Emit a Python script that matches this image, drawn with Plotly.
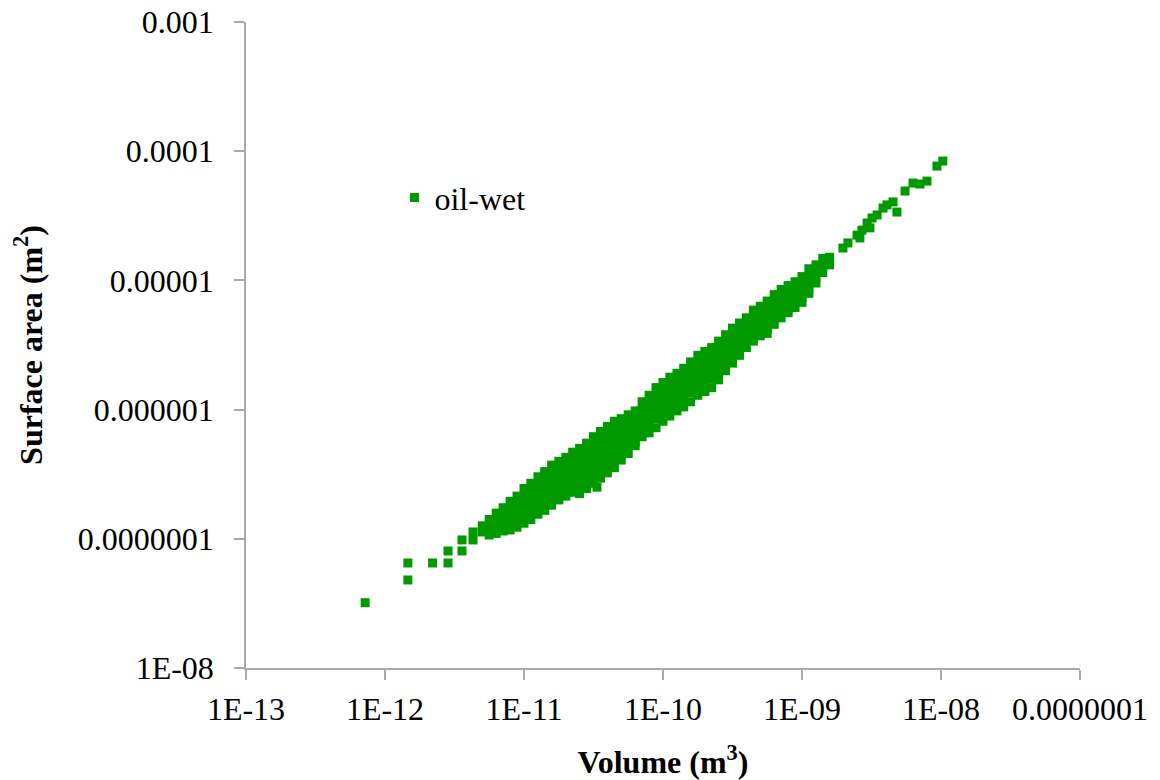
import plotly.graph_objects as go

# Pore volumes (m^3) of the dense band, one entry per column of points
band_volume = [
    5.01e-12, 5.62e-12, 6.31e-12, 7.08e-12, 7.94e-12, 8.91e-12,
    1.00e-11, 1.12e-11, 1.26e-11, 1.41e-11, 1.58e-11, 1.78e-11, 2.00e-11,
    2.24e-11, 2.51e-11, 2.82e-11, 3.16e-11, 3.55e-11, 3.98e-11, 4.47e-11,
    5.01e-11, 5.62e-11, 6.31e-11, 7.08e-11, 7.94e-11, 8.91e-11,
    1.00e-10, 1.12e-10, 1.26e-10, 1.41e-10, 1.58e-10, 1.78e-10, 2.00e-10,
    2.24e-10, 2.51e-10, 2.82e-10, 3.16e-10, 3.55e-10, 3.98e-10, 4.47e-10,
    5.01e-10, 5.62e-10, 6.31e-10, 7.08e-10, 7.94e-10, 8.91e-10,
    1.00e-09, 1.12e-09, 1.26e-09, 1.41e-09, 1.58e-09,
]

# Surface areas (m^2) of the pores sharing each band volume above
band_area = [
    [1.26e-7, 1.13e-7],
    [1.41e-7, 1.23e-7, 1.07e-7],
    [1.58e-7, 1.38e-7, 1.20e-7, 1.10e-7],
    [1.74e-7, 1.51e-7, 1.32e-7, 1.15e-7],
    [1.95e-7, 1.70e-7, 1.48e-7, 1.29e-7, 1.17e-7],
    [2.14e-7, 1.86e-7, 1.62e-7, 1.41e-7, 1.23e-7],
    [2.45e-7, 2.14e-7, 1.86e-7, 1.62e-7, 1.41e-7, 1.32e-7],
    [2.69e-7, 2.34e-7, 2.04e-7, 1.78e-7, 1.55e-7, 1.41e-7],
    [3.02e-7, 2.63e-7, 2.29e-7, 2.00e-7, 1.74e-7, 1.55e-7],
    [3.31e-7, 2.88e-7, 2.51e-7, 2.19e-7, 1.91e-7, 1.66e-7],
    [3.72e-7, 3.24e-7, 2.82e-7, 2.45e-7, 2.14e-7, 1.95e-7, 1.82e-7],
    [3.98e-7, 3.47e-7, 3.02e-7, 2.63e-7, 2.29e-7, 2.00e-7],
    [4.27e-7, 3.72e-7, 3.24e-7, 2.82e-7, 2.45e-7, 2.14e-7],
    [4.68e-7, 4.07e-7, 3.55e-7, 3.09e-7, 2.69e-7, 2.45e-7, 2.29e-7],
    [5.01e-7, 4.37e-7, 3.80e-7, 3.31e-7, 2.88e-7, 2.51e-7, 2.24e-7],
    [5.50e-7, 4.79e-7, 4.17e-7, 3.63e-7, 3.16e-7, 2.75e-7, 2.45e-7],
    [6.17e-7, 5.37e-7, 4.68e-7, 4.07e-7, 3.55e-7, 3.09e-7, 2.69e-7],
    [6.76e-7, 5.89e-7, 5.13e-7, 4.47e-7, 3.89e-7, 3.39e-7, 2.95e-7],
    [7.41e-7, 6.46e-7, 5.62e-7, 4.90e-7, 4.27e-7, 3.72e-7, 3.24e-7],
    [8.13e-7, 7.08e-7, 6.17e-7, 5.37e-7, 4.68e-7, 4.07e-7, 3.55e-7],
    [8.51e-7, 7.41e-7, 6.46e-7, 5.62e-7, 4.90e-7, 4.47e-7, 4.07e-7],
    [9.12e-7, 7.94e-7, 6.92e-7, 6.03e-7, 5.25e-7, 4.57e-7],
    [9.77e-7, 8.51e-7, 7.41e-7, 6.46e-7, 5.62e-7, 5.25e-7],
    [1.15e-6, 1.00e-6, 8.71e-7, 7.59e-7, 6.61e-7, 6.17e-7],
    [1.29e-6, 1.12e-6, 9.77e-7, 8.51e-7, 7.41e-7, 6.61e-7],
    [1.48e-6, 1.29e-6, 1.12e-6, 9.77e-7, 8.51e-7, 7.24e-7],
    [1.62e-6, 1.41e-6, 1.23e-6, 1.07e-6, 9.33e-7, 8.13e-7],
    [1.78e-6, 1.55e-6, 1.35e-6, 1.17e-6, 1.02e-6, 8.91e-7],
    [1.91e-6, 1.66e-6, 1.45e-6, 1.26e-6, 1.10e-6, 9.77e-7],
    [2.09e-6, 1.82e-6, 1.58e-6, 1.38e-6, 1.20e-6, 1.05e-6],
    [2.34e-6, 2.04e-6, 1.78e-6, 1.55e-6, 1.35e-6, 1.15e-6],
    [2.63e-6, 2.29e-6, 2.00e-6, 1.74e-6, 1.51e-6, 1.29e-6],
    [2.82e-6, 2.45e-6, 2.14e-6, 1.86e-6, 1.62e-6, 1.38e-6],
    [3.02e-6, 2.63e-6, 2.29e-6, 2.00e-6, 1.74e-6, 1.48e-6],
    [3.39e-6, 2.95e-6, 2.57e-6, 2.24e-6, 1.95e-6, 1.70e-6],
    [3.80e-6, 3.31e-6, 2.88e-6, 2.51e-6, 2.19e-6, 2.00e-6],
    [4.27e-6, 3.72e-6, 3.24e-6, 2.82e-6, 2.45e-6, 2.29e-6],
    [4.68e-6, 4.07e-6, 3.55e-6, 3.09e-6, 2.82e-6, 2.63e-6],
    [5.13e-6, 4.47e-6, 3.89e-6, 3.39e-6, 3.02e-6],
    [5.89e-6, 5.13e-6, 4.47e-6, 3.89e-6, 3.39e-6],
    [6.31e-6, 5.50e-6, 4.79e-6, 4.17e-6, 3.72e-6],
    [6.92e-6, 6.03e-6, 5.25e-6, 4.57e-6, 4.17e-6, 3.89e-6],
    [7.76e-6, 6.76e-6, 5.89e-6, 5.13e-6, 4.57e-6],
    [8.51e-6, 7.41e-6, 6.46e-6, 5.62e-6, 5.13e-6],
    [9.12e-6, 7.94e-6, 6.92e-6, 6.03e-6, 5.62e-6],
    [9.77e-6, 8.51e-6, 7.41e-6, 6.76e-6, 6.17e-6],
    [1.07e-5, 9.33e-6, 8.13e-6, 7.41e-6, 6.76e-6],
    [1.23e-5, 1.07e-5, 9.33e-6, 8.51e-6, 7.94e-6],
    [1.32e-5, 1.15e-5, 1.05e-5, 9.55e-6],
    [1.48e-5, 1.29e-5, 1.15e-5],
    [1.51e-5, 1.32e-5],
]

# Isolated pores at both ends of the distribution
sparse_volume = [
    7.2e-13, 1.46e-12, 1.46e-12, 2.2e-12, 2.84e-12, 2.84e-12, 3.58e-12,
    3.58e-12, 4.3e-12, 4.3e-12, 3.35e-11, 1.97e-9, 2.14e-9, 2.49e-9,
    2.61e-9, 2.70e-9, 2.94e-9, 3.08e-9, 3.19e-9, 3.47e-9, 3.83e-9,
    4.09e-9, 4.52e-9, 4.82e-9, 5.51e-9, 6.29e-9, 7.06e-9, 7.93e-9,
    9.35e-9, 1.03e-8,
]
sparse_area = [
    3.2e-8, 4.8e-8, 6.5e-8, 6.5e-8, 6.5e-8, 8.05e-8, 8.05e-8,
    9.8e-8, 1.13e-7, 9.8e-8, 2.51e-7, 1.78e-5, 1.95e-5, 2.24e-5,
    2.13e-5, 2.45e-5, 2.78e-5, 2.55e-5, 3.04e-5, 3.21e-5, 3.63e-5,
    3.84e-5, 4.05e-5, 3.38e-5, 4.92e-5, 5.67e-5, 5.57e-5, 5.87e-5,
    7.67e-5, 8.39e-5,
]

x_tickvals = [1e-13, 1e-12, 1e-11, 1e-10, 1e-9, 1e-8, 1e-7]
x_ticktext = ["1E-13", "1E-12", "1E-11", "1E-10", "1E-09", "1E-08", "0.0000001"]
y_tickvals = [1e-8, 1e-7, 1e-6, 1e-5, 1e-4, 1e-3]
y_ticktext = ["1E-08", "0.0000001", "0.000001", "0.00001", "0.0001", "0.001"]

# Flatten the band table into plain x/y sequences
volume = []
area = []
for v, areas in zip(band_volume, band_area):
    for a in areas:
        volume.append(v)
        area.append(a)
volume += sparse_volume
area += sparse_area

GREEN = "#009900"
AXIS = "#a9a9a9"
FONT = "Liberation Serif"

fig = go.Figure(
    go.Scatter(
        x=volume,
        y=area,
        mode="markers",
        name="oil-wet",
        marker=dict(symbol="square", size=9, color=GREEN, line=dict(width=0)),
    )
)

axis_common = dict(
    type="log",
    automargin=False,
    showline=True,
    linecolor=AXIS,
    linewidth=1.5,
    ticks="outside",
    ticklen=10,
    tickwidth=1.5,
    tickcolor=AXIS,
    showgrid=False,
    zeroline=False,
    tickfont=dict(family=FONT, size=32, color="black"),
)

fig.update_layout(
    width=1160,
    height=780,
    margin=dict(l=246, r=80, t=22, b=112),
    paper_bgcolor="white",
    plot_bgcolor="white",
    font=dict(family=FONT, size=32, color="black"),
    showlegend=True,
    legend=dict(
        x=0.178, y=0.728, xanchor="left", yanchor="middle",
        bgcolor="rgba(0,0,0,0)", font=dict(family=FONT, size=32, color="black"),
    ),
    xaxis=dict(
        axis_common,
        range=[-13, -7],
        tickvals=x_tickvals,
        ticktext=x_ticktext,
        ticklabelstandoff=2,
        title=dict(text="<b>Volume (m<sup>3</sup>)</b>", standoff=25,
                   font=dict(family=FONT, size=32, color="black")),
    ),
    yaxis=dict(
        axis_common,
        range=[-8, -3],
        tickvals=y_tickvals,
        ticktext=y_ticktext,
        ticklabelstandoff=14,
        title=dict(text="<b>Surface area (m<sup>2</sup>)</b>", standoff=26,
                   font=dict(family=FONT, size=32, color="black")),
    ),
)

fig.write_html("out.html")
